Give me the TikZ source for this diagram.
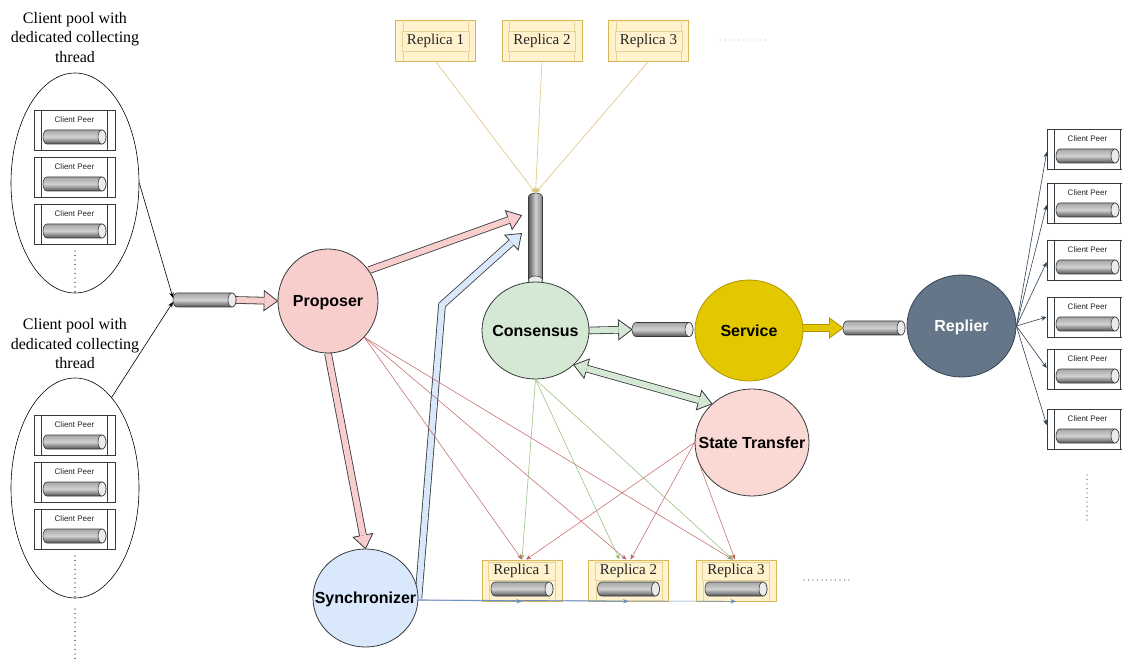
\documentclass[tikz,border=0pt]{standalone}
\usepackage{fontspec}
\setmainfont{Liberation Serif}
\setsansfont{Liberation Sans}
\usetikzlibrary{calc,shapes.geometric,arrows.meta}
\pgfdeclarelayer{bg}
\pgfsetlayers{bg,main}

\definecolor{pinkF}{HTML}{F8CECC}
\definecolor{redS}{HTML}{B85450}
\definecolor{greenF}{HTML}{D5E8D4}
\definecolor{greenS}{HTML}{82B366}
\definecolor{blueF}{HTML}{DAE8FC}
\definecolor{blueS}{HTML}{6C8EBF}
\definecolor{yellowF}{HTML}{E3C800}
\definecolor{yellowS}{HTML}{B09500}
\definecolor{slateF}{HTML}{647687}
\definecolor{slateS}{HTML}{314354}
\definecolor{stF}{HTML}{FAD9D5}
\definecolor{repF}{HTML}{FFF2CC}
\definecolor{repS}{HTML}{D6B656}
\definecolor{edge}{HTML}{36393D}

\tikzset{
  circ/.style={ellipse, draw=edge, line width=0.8pt, inner sep=0pt},
  ctext/.style={font=\fontsize{16}{19}\selectfont\sffamily\bfseries, inner sep=0pt,
                text=black, text height=11.5pt, text depth=0pt},
  pool/.style={ellipse, draw=black, line width=0.6pt, minimum width=128, minimum height=220, inner sep=0pt},
  pooltext/.style={align=center, font=\fontsize{16}{19.5}\selectfont, inner sep=0pt},
  peerbox/.style={rectangle, draw=edge, fill=white, line width=0.6pt, minimum width=81, minimum height=40, inner sep=0pt},
  peerline/.style={draw=edge, line width=0.6pt},
  peertext/.style={font=\fontsize{8}{9}\selectfont\sffamily, text=black!85, inner sep=0pt},
  tubenode/.style={rectangle, draw=none, inner sep=0pt, outer sep=0pt},
  tubebody/.style={draw=edge, line width=0.6pt},
  tubecap/.style={draw=edge, fill=black!8, line width=0.6pt},
  repbox/.style={rectangle, draw=repS, fill=repF, line width=0.7pt, minimum width=80, minimum height=41, inner sep=0pt},
  repline/.style={draw=repS!60, line width=0.6pt},
  replabel/.style={rectangle, draw=repS!60, fill=repF, line width=0.6pt, minimum width=67, inner sep=0pt,
                   font=\fontsize{15}{18}\selectfont, text=black!85},
  fatH/.style={fill=#1, draw=edge, line width=0.8pt, line join=miter},
  fatS/.style={draw=edge, line width=0.8pt, double=#1, double distance=6pt, line join=miter},
  link/.style={line width=0.6pt, -{Stealth[length=5.5pt,width=4.5pt]}},
  dotrow/.style={line width=1.1pt, dash pattern=on 0pt off 4.5pt, line cap=round},
}

% sizes of the outlined block arrows
\newcommand\fahl{13.5pt}
\newcommand\fahw{10pt}
\newcommand\fasw{3.4pt}

% horizontal tube: name, left x, x of the end face, axis y
\newcommand\htube[4]{%
  \path[tubebody, top color=black!35, bottom color=black!68, middle color=black!18]
    ({(#2)+4},{(#4)-7}) -- ({#3},{(#4)-7})
    arc[start angle=90, end angle=-90, x radius=4pt, y radius=7pt]
    -- ({(#2)+4},{(#4)+7})
    arc[start angle=270, end angle=90, x radius=4pt, y radius=7pt] -- cycle;
  \path[tubecap] ({#3},{#4}) ellipse[x radius=4pt, y radius=7pt];
  \node[tubenode, minimum width={(#3)-(#2)+4}, minimum height=14] (#1) at ({((#2)+(#3)+4)/2},{#4}) {};
}
% vertical tube: name, axis x, top y, y of the end face
\newcommand\vtube[4]{%
  \path[tubebody, left color=black!65, right color=black!50, middle color=black!18]
    ({(#2)-7},{#4}) -- ({(#2)-7},{(#3)+4})
    arc[start angle=180, end angle=0, x radius=7pt, y radius=4pt]
    -- ({(#2)+7},{#4})
    arc[start angle=0, end angle=-180, x radius=7pt, y radius=4pt] -- cycle;
  \path[tubecap] ({#2},{#4}) ellipse[x radius=7pt, y radius=4pt];
  \node[tubenode, minimum width=14, minimum height={(#4)-(#3)+4}] (#1) at ({#2},{((#3)+(#4)+4)/2}) {};
}
% client peer box: name, centre x, centre y
\newcommand\clientpeer[3]{%
  \node[peerbox] (#1) at (#2,#3) {};
  \draw[peerline] ([xshift=8pt]#1.north west) -- ([xshift=8pt]#1.south west)
                  ([xshift=-8pt]#1.north east) -- ([xshift=-8pt]#1.south east);
  \node[peertext] (#1-l) at ([yshift=-10pt]#1.north) {Client Peer};
  \htube{#1-c}{(#2)-31.5}{(#2)+27.5}{(#3)+7}
}
% replica with a queue: name, centre x, centre y, label
\newcommand\replicaq[4]{%
  \node[repbox] (#1) at (#2,#3) {};
  \draw[repline] ([xshift=8pt]#1.north west) -- ([xshift=8pt]#1.south west)
                 ([xshift=-7pt]#1.north east) -- ([xshift=-7pt]#1.south east);
  \node[replabel, minimum height=18] (#1-l) at ({#2},{(#3)-9.5}) {#4};
  \htube{#1-c}{(#2)-31}{(#2)+27}{(#3)+8.5}
}
% replica without queue: name, centre x, centre y, label
\newcommand\replicat[4]{%
  \node[repbox] (#1) at (#2,#3) {};
  \draw[repline] ([xshift=8pt]#1.north west) -- ([xshift=8pt]#1.south west)
                 ([xshift=-8pt]#1.north east) -- ([xshift=-8pt]#1.south east);
  \node[replabel, minimum height=20] (#1-l) at ({#2},{(#3)+0.5}) {#4};
}
% head of a block arrow: style, point it comes from, tip, name of its base point
\newcommand\fathead[4]{%
  \path ($(#3)!\fahl!(#2)$) coordinate (#4);
  \filldraw[#1] ($(#4)!\fasw!90:(#3)$) -- ($(#4)!\fahw!90:(#3)$) -- (#3)
     -- ($(#4)!\fahw!-90:(#3)$) -- ($(#4)!\fasw!-90:(#3)$);
}

\begin{document}
\begin{tikzpicture}[x=1pt, y=-1pt]
\useasboundingbox (0,0) rectangle (1122,668);
\begin{pgfonlayer}{bg}
  \fill[white] (0,0) rectangle (1122,668);
\end{pgfonlayer}

% ---- client pools on the left
\node[pooltext] (poolA) at (75,37.5) {Client pool with\\dedicated collecting\\thread};
\node[pool] (e1) at (75,183) {};
\clientpeer{cpa1}{74.5}{130}
\clientpeer{cpa2}{74.5}{177}
\clientpeer{cpa3}{74.5}{224}
\draw[dotrow] (75,251) -- (75,292);

\node[pooltext] (poolB) at (75,344) {Client pool with\\dedicated collecting\\thread};
\node[pool] (e2) at (75,488) {};
\clientpeer{cpb1}{74.5}{435}
\clientpeer{cpb2}{74.5}{482}
\clientpeer{cpb3}{74.5}{529}
\draw[dotrow] (75,556) -- (75,598);
\draw[dotrow] (75,609) -- (75,663);

% ---- request queue and processing stages
\htube{tIn}{173}{232}{300}
\vtube{tC}{535.5}{193}{280}
\htube{tCo}{632}{689}{329.5}
\htube{tSv}{843}{901}{328}

\node[circ, fill=pinkF, minimum width=100, minimum height=104,
      label={[ctext]center:Proposer}] (prop) at (328,301) {};
\node[circ, fill=greenF, minimum width=107, minimum height=97,
      label={[ctext]center:Consensus}] (cons) at (535.5,330.5) {};
\node[circ, fill=yellowF, draw=yellowS, minimum width=108, minimum height=101,
      label={[ctext]center:Service}] (serv) at (749,330.5) {};
\node[circ, fill=slateF, draw=slateS, minimum width=109, minimum height=102,
      label={[ctext,text=white]center:Replier}] (rep) at (961.5,326) {};
\node[circ, fill=stF, minimum width=114, minimum height=107,
      label={[ctext]center:State Transfer}] (st) at (752,442.5) {};
\node[circ, fill=blueF, minimum width=105, minimum height=98,
      label={[ctext]center:Synchronizer}] (sync) at (365.5,598) {};

% ---- replicas
\replicat{rt1}{435.5}{40.5}{Replica 1}
\replicat{rt2}{542}{40.5}{Replica 2}
\replicat{rt3}{648.5}{40.5}{Replica 3}
\draw[dotrow, draw=repS!80] (716,40) -- (767,40);

\replicaq{rb1}{522}{580.5}{Replica 1}
\replicaq{rb2}{628.5}{580.5}{Replica 2}
\replicaq{rb3}{736}{580.5}{Replica 3}
\draw[dotrow, draw=black!70] (804,580) -- (853,580);

% ---- client peers on the right
\clientpeer{cpr1}{1087.5}{149}
\clientpeer{cpr2}{1087.5}{203}
\clientpeer{cpr3}{1087.5}{260}
\clientpeer{cpr4}{1087.5}{317}
\clientpeer{cpr5}{1087.5}{369}
\clientpeer{cpr6}{1087.5}{429}
\draw[dotrow, draw=black!70] (1087,475) -- (1087,523);

% ---- block arrows
\coordinate (tipP) at ([shift={(-7pt,23pt)}]tC.west);
\coordinate (tipB) at ([shift={(-7pt,5pt)}]tC.west);
\coordinate (sbend) at (442,305);
\begin{pgfonlayer}{bg}
  \fathead{fatH=pinkF}{tIn.east}{prop.west}{h1}
  \draw[fatS=pinkF] (tIn.east) -- (h1);
  \fathead{fatH=pinkF}{prop.37}{tipP}{h2}
  \draw[fatS=pinkF] (prop.37) -- (h2);
  \fathead{fatH=pinkF}{prop.south}{sync.north}{h3}
  \draw[fatS=pinkF] (prop.south) -- (h3);
  \fathead{fatH=greenF}{cons.east}{tCo.west}{h4}
  \draw[fatS=greenF] (cons.east) -- (h4);
  \fathead{fatH=yellowF, draw=yellowS}{serv.east |- tSv.west}{tSv.west}{h5}
  \draw[fatS=yellowF, draw=yellowS] (serv.east |- tSv.west) -- (h5);
  \fathead{fatH=greenF}{st.136}{cons.-42}{h6}
  \fathead{fatH=greenF}{cons.-42}{st.136}{h7}
  \draw[fatS=greenF] (h6) -- (h7);
  \fathead{fatH=blueF}{sbend}{tipB}{h8}
  \draw[fatS=blueF] (sync.east) -- (sbend) -- (h8);
\end{pgfonlayer}

% ---- plain connectors
\draw[link, black] (e1.east) -- ([yshift=2pt]tIn.west);
\draw[link, black] (e2.68) -- ([yshift=-2pt]tIn.west);

\draw[link, draw=repS!80!white] (rt1.south) -- (tC.north);
\draw[link, draw=repS!80!white] (rt2.south) -- (tC.north);
\draw[link, draw=repS!80!white] (rt3.south) -- (tC.north);

\begin{scope}[draw opacity=0.8, fill opacity=0.8]
\draw[link, draw=redS] (prop.-45) -- (rb1.north);
\draw[link, draw=redS] (prop.-45) -- ([xshift=-2pt]rb2.north);
\draw[link, draw=redS] (prop.-45) -- ([xshift=-3pt]rb3.north);
\draw[link, draw=greenS] (cons.south) -- (rb1.north);
\draw[link, draw=greenS] (cons.south) -- ([xshift=-9pt]rb2.north);
\draw[link, draw=greenS] (cons.south) -- ([xshift=-3pt]rb3.north);
\draw[link, draw=redS] (st.west) -- ([xshift=4pt]rb1.north);
\draw[link, draw=redS] (st.west) -- ([xshift=2pt]rb2.north);
\draw[link, draw=redS] (st.194) -- ([xshift=-1pt]rb3.north);
\end{scope}

\draw[link, draw=blueS] ([yshift=-2pt]sync.east) -- (rb1.south);
\draw[link, draw=blueS] ([yshift=-2pt]sync.east) -- (rb2.south);
\draw[link, draw=blueS] ([yshift=-2pt]sync.east) -- (rb3.south);

\draw[link, draw=slateS] (rep.east) -- ([yshift=-3pt]cpr1.west);
\draw[link, draw=slateS] (rep.east) -- ([yshift=-2pt]cpr2.west);
\draw[link, draw=slateS] (rep.east) -- ([yshift=-2pt]cpr3.west);
\draw[link, draw=slateS] (rep.east) -- (cpr4.west);
\draw[link, draw=slateS] (rep.east) -- ([yshift=1pt]cpr5.west);
\draw[link, draw=slateS] (rep.east) -- ([yshift=4pt]cpr6.west);
\end{tikzpicture}
\end{document}
